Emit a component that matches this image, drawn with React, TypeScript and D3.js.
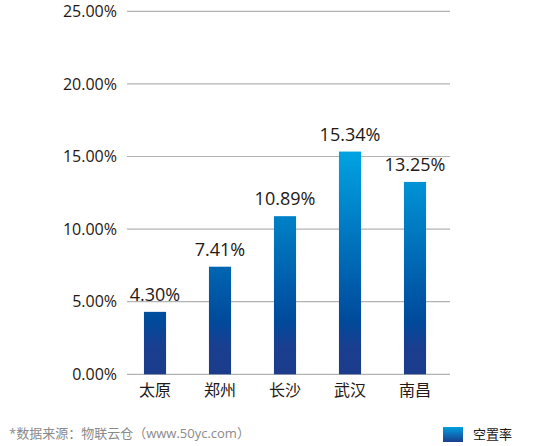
import React from "react";
import * as d3 from "d3";

const categories = ["太原", "郑州", "长沙", "武汉", "南昌"];
const values = [4.3, 7.41, 10.89, 15.34, 13.25];
const yTicks = [0, 5, 10, 15, 20, 25];
const seriesName = "空置率";
const sourceText = "*数据来源：物联云仓（www.50yc.com）";

const W = 541;
const H = 446;
const FONT = "'Open Sans', 'Noto Sans CJK SC', sans-serif";

export default function App() {
  const x = d3.scaleBand<string>().domain(categories).range([122.5, 447.5]).paddingInner(0.66).paddingOuter(0.33);
  const y = d3.scaleLinear().domain([0, 25]).range([374.3, 11.3]);
  const bw = x.bandwidth();
  return (
    <svg width={W} height={H} style={{ position: "absolute", left: 0, top: 0, background: "#fff" }} fontFamily={FONT}>
      <defs>
        <linearGradient id="barGrad" gradientUnits="userSpaceOnUse" x1="0" x2="0" y1={y(0)} y2={y(15.5)}>
          <stop offset="0" stopColor="#1b3c8b" />
          <stop offset="0.12" stopColor="#1a3e8f" />
          <stop offset="0.24" stopColor="#004a9c" />
          <stop offset="1" stopColor="#00a4e3" />
        </linearGradient>
        <linearGradient id="legGrad" x1="0" x2="0" y1="0" y2="1">
          <stop offset="0" stopColor="#009fe0" />
          <stop offset="1" stopColor="#1a3e8f" />
        </linearGradient>
      </defs>
      {yTicks.map((t) => (
        <g key={t}>
          <line x1={127} x2={450} y1={y(t)} y2={y(t)} stroke="#b3b3b3" strokeWidth={1.2} />
          <text x={117} y={y(t)} dy="0.35em" textAnchor="end" fontSize={16} fill="#231815">
            {t.toFixed(2) + "%"}
          </text>
        </g>
      ))}
      {categories.map((c, i) => {
        const bx = x(c)!;
        return (
          <g key={c}>
            <rect x={bx} y={y(values[i])} width={bw} height={y(0) - y(values[i])} fill="url(#barGrad)" />
            <text x={bx + bw / 2} y={y(values[i]) - 11} textAnchor="middle" fontSize={18} fill="#231815">
              {values[i].toFixed(2) + "%"}
            </text>
            <text x={bx + bw / 2} y={396} textAnchor="middle" fontSize={16} fill="#231815">
              {c}
            </text>
          </g>
        );
      })}
      <text x={9} y={438} fontSize={13} fill="#8a8a8a">{sourceText}</text>
      <rect x={443} y={427} width={20} height={15} fill="url(#legGrad)" />
      <text x={473} y={439} fontSize={13} fill="#231815">{seriesName}</text>
    </svg>
  );
}
